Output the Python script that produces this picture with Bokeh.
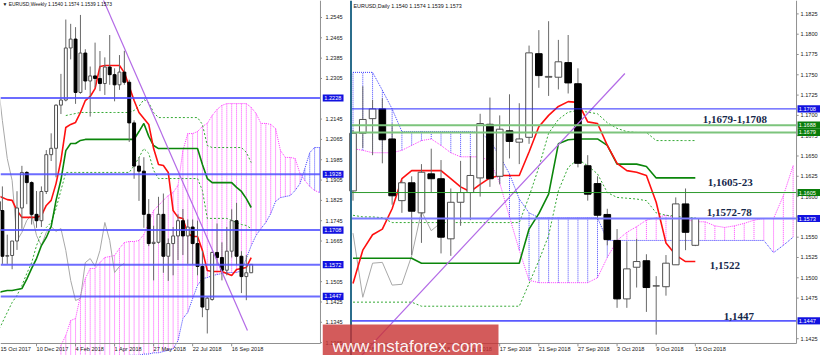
from bokeh.plotting import figure
from bokeh.layouts import row
from bokeh.models import Range1d, Label, ColumnDataSource
from bokeh.core.properties import value
from bokeh.embed import file_html
from bokeh.resources import INLINE

FONT = "Liberation Sans"
TICK_FS = "5.6px"

# ======================= WEEKLY DATA (week index 0 = 15 Oct 2017) =======================
wk_open = [1.1820,1.1785,1.1605,1.1608,1.1665,1.1795,1.1935,1.1895,1.1770,1.1745,
           1.1860,1.2005,1.2030,1.2200,1.2220,1.2425,1.2460,1.2250,1.2405,1.2295,
           1.2315,1.2305,1.2285,1.2350,1.2320,1.2280,1.2330,1.2290,1.2130,1.1960,
           1.1940,1.1770,1.1655,1.1660,1.1770,1.1605,1.1655,1.1685,1.1745,1.1685,
           1.1720,1.1655,1.1565,1.1395,1.1435,1.1620,1.1600,1.1550,1.1625,1.1745,
           1.1605,1.1525,1.1540]
wk_high = [1.1860,1.1880,1.1690,1.1665,1.1861,1.1961,1.1940,1.1900,1.1862,1.1880,
           1.2023,1.2089,1.2203,1.2323,1.2537,1.2520,1.2507,1.2555,1.2420,1.2352,
           1.2446,1.2413,1.2388,1.2476,1.2345,1.2397,1.2414,1.2300,1.2140,1.1995,
           1.1995,1.1830,1.1725,1.1839,1.1852,1.1675,1.1720,1.1770,1.1791,1.1750,
           1.1750,1.1745,1.1625,1.1445,1.1623,1.1734,1.1660,1.1720,1.1790,1.1815,
           1.1625,1.1610,1.1574]
wk_low = [1.1730,1.1575,1.1575,1.1554,1.1630,1.1713,1.1810,1.1730,1.1717,1.1720,
          1.1850,1.1980,1.1916,1.2165,1.2215,1.2380,1.2205,1.2245,1.2260,1.2155,
          1.2270,1.2255,1.2240,1.2280,1.2215,1.2260,1.2280,1.2055,1.1910,1.1823,
          1.1717,1.1645,1.1510,1.1655,1.1540,1.1508,1.1530,1.1590,1.1610,1.1575,
          1.1574,1.1530,1.1365,1.1301,1.1430,1.1575,1.1510,1.1530,1.1600,1.1570,
          1.1460,1.1432,1.1539]
wk_close = [1.1785,1.1605,1.1608,1.1665,1.1795,1.1935,1.1895,1.1770,1.1745,1.1860,
            1.2005,1.2030,1.2200,1.2220,1.2425,1.2460,1.2250,1.2405,1.2295,1.2315,
            1.2305,1.2285,1.2350,1.2320,1.2280,1.2330,1.2290,1.2130,1.1960,1.1940,
            1.1770,1.1655,1.1660,1.1770,1.1605,1.1655,1.1685,1.1745,1.1685,1.1720,
            1.1655,1.1565,1.1405,1.1440,1.1620,1.1600,1.1550,1.1625,1.1745,1.1605,
            1.1525,1.1540,1.1573]
wk_tenkan = [1.1844,1.1836,1.1828,1.1825,1.1785,1.1758,1.1758,1.1758,1.1758,1.1765,
             1.1805,1.1825,1.1891,1.1982,1.2112,1.2124,1.2132,1.2171,1.2218,1.2234,
             1.2265,1.2352,1.2356,1.2356,1.2356,1.2356,1.2328,1.2273,1.2218,1.2171,
             1.2147,1.2124,1.2029,1.1966,1.1962,1.1935,1.1785,1.1758,1.1754,1.1695,
             1.1683,1.1683,1.1628,1.1549,1.1545,1.1545,1.1545,1.1537,1.1529,1.1553,
             1.1557,1.1561,1.1600]
wk_kijun = [1.1462,1.1466,1.1470,1.1470,1.1474,1.1478,1.1515,1.1557,1.1596,1.1647,
            1.1679,1.1722,1.1825,1.1905,1.2021,1.2049,1.2049,1.2061,1.2065,1.2065,
            1.2065,1.2065,1.2065,1.2065,1.2065,1.2065,1.2065,1.2065,1.2065,1.2096,
            1.2128,1.2077,1.2041,1.2029,1.2029,1.2029,1.2029,1.2029,1.2029,1.2029,
            1.2029,1.2029,1.1966,1.1911,1.1895,1.1895,1.1895,1.1895,1.1895,1.1876,
            1.1860,1.1832,1.1797]
wk_chikou = [1.2305,1.2139,1.1990,1.1903,1.1667,1.1699,1.1746,1.1769,1.1687,1.1647,
             1.1699,1.1722,1.1703,1.1714,1.1628,1.1510,1.1431,1.1439,1.1580,1.1596,
             1.1565,1.1628,1.1738,1.1667,1.1541,1.1565,1.1577]
wk_g1_start = 14
wk_g1 = [1.2159,1.2163,1.2167,1.2171,1.2171,1.2171,1.2171,1.2171,1.2171,1.2171,
         1.2171,1.2171,1.2171,1.2171,1.2179,1.2195,1.2222,1.2210,1.2171,1.2151,
         1.2151,1.2151,1.2151,1.2151,1.2151,1.2151,1.2151,1.2151,1.2124,1.2041,
         1.2033,1.2033,1.2033,1.2033,1.2033,1.2033,1.2033,1.2014,1.1974]
wk_g2 = [1.1305,1.1344,1.1384,1.1423,1.1451,1.1490,1.1537,1.1580,1.1647,1.1695,
         1.1718,1.1738,1.1793,1.1864,1.1935,1.1935,1.1935,1.1935,1.1935,1.1935,
         1.1935,1.1935,1.1935,1.1935,1.1935,1.1935,1.1935,1.1935,1.1962,1.1994,
         1.2029,1.2010,1.1943,1.1911,1.1911,1.1911,1.1911,1.1911,1.1911,1.1911,
         1.1911,1.1911,1.1864,1.1754,1.1754,1.1754,1.1754,1.1754,1.1746,1.1738,
         1.1730,1.1726,1.1714]
wk_cloud_start = 13
wk_span_pink = [1.1254,1.1293,1.1352,1.1360,1.1451,1.1517,1.1557,1.1557,1.1580,1.1600,
                1.1604,1.1608,1.1636,1.1659,1.1663,1.1663,1.1667,1.1691,1.1738,1.1785,
                1.1805,1.1825,1.1844,1.1856,1.1884,1.2021,1.2088,1.2088,1.2096,1.2116,
                1.2128,1.2159,1.2183,1.2199,1.2206,1.2206,1.2206,1.2206,1.2206,1.2191,
                1.2167,1.2128,1.2128,1.2124,1.2108,1.2021,1.1994,1.1994,1.1990,1.1931,
                1.1903,1.1880,1.1864,1.1856]
wk_span_blue = [1.1190,1.1190,1.1195,1.1195,1.1195,1.1200,1.1200,1.1200,1.1205,1.1205,
                1.1205,1.1210,1.1210,1.1210,1.1215,1.1215,1.1215,1.1220,1.1220,1.1225,
                1.1225,1.1230,1.1235,1.1240,1.1273,1.1360,1.1384,1.1439,1.1490,1.1517,
                1.1521,1.1529,1.1533,1.1537,1.1541,1.1541,1.1541,1.1549,1.1596,1.1647,
                1.1687,1.1714,1.1738,1.1773,1.1821,1.1836,1.1840,1.1844,1.1864,1.1891,
                1.1951,1.2013,1.2033,1.2033]
wk_trend_x = [21.0, 51.23]
wk_trend_y = [1.2645, 1.1313]
wk_levels = [1.2228, 1.1928, 1.1708, 1.1572, 1.1447]
wk_yticks = [1.2545,1.2465,1.2385,1.2305,1.2145,1.2065,1.1985,1.1905,1.1825,1.1745,
             1.1665,1.1505,1.1425,1.1345,1.1265]
wk_date_idx = [0, 8, 16, 24, 32, 40, 48]
wk_date_lbl = ["15 Oct 2017","10 Dec 2017","4 Feb 2018","1 Apr 2018","27 May 2018",
               "22 Jul 2018","16 Sep 2018"]

# ======================= DAILY DATA (day index 0 = 27 Aug 2018) =======================
d_open = [1.1607,1.1678,1.1696,1.1708,1.1671,1.1595,1.1617,1.1580,1.1628,1.1622,
          1.1548,1.1593,1.1605,1.1623,1.1689,1.1625,1.1681,1.1667,1.1673,1.1776,
          1.1747,1.1747,1.1765,1.1739,1.1638,1.1616,1.1578,1.1546,1.1474,1.1513,
          1.1521,1.1490,1.1489,1.1516,1.1591,1.1540]
d_high = [1.1682,1.1736,1.1719,1.1721,1.1690,1.1620,1.1625,1.1640,1.1659,1.1645,
          1.1610,1.1644,1.1650,1.1702,1.1722,1.1700,1.1726,1.1715,1.1786,1.1805,
          1.1816,1.1793,1.1799,1.1758,1.1651,1.1625,1.1585,1.1560,1.1545,1.1548,
          1.1529,1.1502,1.1528,1.1599,1.1610,1.1574]
d_low = [1.1595,1.1660,1.1651,1.1641,1.1590,1.1580,1.1528,1.1543,1.1605,1.1530,
         1.1527,1.1564,1.1571,1.1600,1.1612,1.1615,1.1647,1.1640,1.1665,1.1734,
         1.1724,1.1732,1.1727,1.1636,1.1595,1.1571,1.1540,1.1463,1.1463,1.1488,
         1.1458,1.1430,1.1478,1.1516,1.1534,1.1539]
d_close = [1.1678,1.1695,1.1708,1.1670,1.1601,1.1617,1.1582,1.1630,1.1622,1.1550,
           1.1593,1.1605,1.1626,1.1690,1.1622,1.1683,1.1668,1.1671,1.1777,1.1749,
           1.1748,1.1766,1.1740,1.1641,1.1603,1.1577,1.1547,1.1474,1.1511,1.1520,
           1.1488,1.1490,1.1518,1.1591,1.1556,1.1573]
d_tenkan = [1.1493,1.1534,1.1553,1.1560,1.1585,1.1622,1.1632,1.1632,1.1632,1.1632,
            1.1622,1.1612,1.1606,1.1615,1.1623,1.1626,1.1626,1.1626,1.1655,1.1686,
            1.1700,1.1711,1.1717,1.1716,1.1692,1.1690,1.1663,1.1641,1.1632,1.1630,
            1.1626,1.1593,1.1543,1.1528,1.1520,1.1520]
d_kijun = [1.1524,1.1524,1.1524,1.1524,1.1524,1.1524,1.1524,1.1518,1.1518,1.1518,
           1.1518,1.1518,1.1518,1.1518,1.1518,1.1518,1.1518,1.1518,1.1560,1.1579,
           1.1603,1.1665,1.1670,1.1671,1.1671,1.1671,1.1663,1.1640,1.1640,1.1640,
           1.1637,1.1623,1.1623,1.1623,1.1623,1.1623]
d_chikou = [1.1555,1.1476,1.1518,1.1519,1.1491,1.1492,1.1527,1.1582,1.1558,1.1568]
d_g1 = [1.1577,1.1575,1.1575,1.1574,1.1568,1.1568,1.1568,1.1568,1.1568,1.1568,
        1.1568,1.1568,1.1568,1.1568,1.1568,1.1568,1.1568,1.1568,1.1600,1.1636,
        1.1678,1.1695,1.1704,1.1706,1.1704,1.1702,1.1691,1.1684,1.1680,1.1679,
        1.1679,1.1669,1.1669,1.1669,1.1669,1.1669]
d_g2 = [1.1470,1.1470,1.1470,1.1470,1.1470,1.1470,1.1470,1.1465,1.1465,1.1465,
        1.1465,1.1465,1.1465,1.1465,1.1465,1.1465,1.1465,1.1465,1.1493,1.1521,
        1.1552,1.1607,1.1636,1.1646,1.1638,1.1628,1.1605,1.1599,1.1598,1.1597,
        1.1595,1.1580,1.1577,1.1576,1.1574,1.1574]
d_span_blue = [1.1753,1.1753,1.1753,1.1731,1.1708,1.1680,1.1680,1.1680,1.1680,1.1680,
               1.1680,1.1680,1.1680,1.1679,1.1669,1.1650,1.1628,1.1597,1.1580,1.1574,
               1.1574,1.1574,1.1574,1.1574,1.1574,1.1574,1.1546,1.1546,1.1546,1.1546,
               1.1546,1.1546,1.1546,1.1546,1.1546,1.1546,1.1546,1.1546,1.1546,1.1546,
               1.1546,1.1546,1.1546,1.1531,1.1540,1.1550]
d_span_pink = [1.1659,1.1657,1.1654,1.1654,1.1654,1.1657,1.1663,1.1669,1.1671,1.1663,
               1.1654,1.1649,1.1649,1.1649,1.1644,1.1617,1.1575,1.1534,1.1497,1.1494,
               1.1494,1.1494,1.1494,1.1494,1.1494,1.1500,1.1525,1.1546,1.1556,1.1563,
               1.1571,1.1574,1.1577,1.1574,1.1572,1.1569,1.1569,1.1564,1.1562,1.1564,
               1.1567,1.1571,1.1573,1.1573,1.1601,1.1638]
d_trend_x = [0.0, 27.8]
d_trend_y = [1.1393, 1.17516]
d_yticks = [1.1825,1.1800,1.1775,1.1750,1.1725,1.1700,1.1675,1.1650,1.1625,1.1600,
            1.1575,1.1550,1.1525,1.1500,1.1475,1.1425]
d_date_idx = [-1, 3, 7, 11, 15, 19, 23, 27, 31, 35]
d_date_lbl = ["24 Aug 2018","30 Aug 2018","5 Sep 2018","11 Sep 2018","17 Sep 2018",
              "21 Sep 2018","27 Sep 2018","3 Oct 2018","9 Oct 2018","15 Oct 2018"]
d_blue_levels = [1.1708, 1.1573, 1.1447]
d_green_levels = [1.1688, 1.1679, 1.1605]
d_tags = [1.1708, 1.1688, 1.1679, 1.1605, 1.1573, 1.1447]
d_tag_colors = ["#1212e0", "#0a7d0a", "#0a7d0a", "#0a7d0a", "#1212e0", "#1212e0"]
d_notes = ["1,1679-1,1708", "1,1605-23", "1,1572-78", "1,1522", "1,1447"]
d_note_x = [35.77, 36.28, 36.17, 36.48, 37.91]
d_note_y = [1.16949, 1.16173, 1.15804, 1.15151, 1.14523]
watermark = "www.instaforex.com"

# ======================= LAYOUT CONSTANTS (range units) =======================
WK_X = (0.615, 66.615)           # weekly panel, week index
WK_Y = (1.12143, 1.26119)        # weekly price scale
WK_EDGE = 66.2                   # right border of weekly chart area
WK_BOTTOM = 1.12615              # bottom border of chart area
WK_DATE_Y = 1.12418
D_X = (-3.119, 47.80)            # daily panel, day index
D_Y = (1.14043, 1.18415)         # daily price scale
D_LEFT, D_RIGHT = -0.205, 45.35  # daily chart borders
D_BOTTOM = 1.14191
D_DATE_Y = 1.14129
WLBL_X = -2.81                   # weekly price labels (in the daily panel)
WTAG = (-3.12, -0.97, -2.93)     # weekly tag box left/right, text x
DLBL_X = 45.76
DTAG = (45.45, 47.75, 45.58)
WTAG_H, DTAG_H = 0.00140, 0.00044
WM_BOX = (D_X[0], 14.877, 1.14425)   # watermark box right / top
WM_TXT = (-2.10, 1.14154)            # watermark text start / baseline

PINK = "#ff3cff"
BLUE = "#3c3cff"
PINK_H = "#ff44ff"
BLUE_H = "#4848ff"
RED = "#ff1010"
GREEN = "#0b860b"
GDOT = "#33a833"
GRAY = "#a8a8a8"
PURPLE = "#b36ae6"
WICK = "#6a6a6a"
AXC = "#909090"


def draw_candles(p, x, o, h, l, c, width):
    p.segment(x0=x, y0=l, x1=x, y1=h, line_color=WICK, line_width=1)
    up = [k for k in range(len(x)) if c[k] >= o[k]]
    dn = [k for k in range(len(x)) if c[k] < o[k]]
    su = ColumnDataSource(dict(x=[x[k] for k in up], t=[c[k] for k in up], b=[o[k] for k in up]))
    sd = ColumnDataSource(dict(x=[x[k] for k in dn], t=[o[k] for k in dn], b=[c[k] for k in dn]))
    p.vbar(x="x", top="t", bottom="b", width=width, fill_color="white",
           line_color="#505050", line_width=1, source=su)
    p.vbar(x="x", top="t", bottom="b", width=width, fill_color="black",
           line_color="black", line_width=1, source=sd)


def draw_cloud(p, xs, pink, blue):
    cols = [BLUE_H if b > a else PINK_H for a, b in zip(pink, blue)]
    p.segment(x0=xs, y0=pink, x1=xs, y1=blue, line_color=cols, line_width=1, line_dash="1 1")
    p.line(xs, pink, line_color=PINK, line_width=1, line_dash="1 1")
    p.line(xs, blue, line_color=BLUE, line_width=1, line_dash="1 1")


def txt(p, xs, ys, texts, size=TICK_FS, color="#202020", align="left",
        baseline="middle", y_range_name="default", alpha=1.0):
    src = ColumnDataSource(dict(x=xs, y=ys, t=texts))
    p.text(x="x", y="y", text="t", source=src, text_font=value(FONT),
           text_font_size=value(size), text_color=color, text_align=align,
           text_baseline=baseline, y_range_name=y_range_name, text_alpha=alpha)


def base_fig(w, xr, yr):
    p = figure(width=w, height=355, x_range=Range1d(*xr), y_range=Range1d(*yr),
               output_backend="svg", toolbar_location=None, x_axis_location=None,
               y_axis_location=None, min_border_left=0, min_border_right=0,
               min_border_top=0, min_border_bottom=0, outline_line_color=None)
    p.grid.visible = False
    p.background_fill_color = "white"
    p.border_fill_color = "white"
    return p


# ======================= WEEKLY PANEL =======================
wk = base_fig(322, WK_X, WK_Y)
wx = list(range(len(wk_open)))
cx = list(range(wk_cloud_start, wk_cloud_start + len(wk_span_pink)))
draw_cloud(wk, cx, wk_span_pink, wk_span_blue)
wk.line(list(range(len(wk_chikou))), wk_chikou, line_color=GRAY, line_width=1)
wk.line(list(range(wk_g1_start, wk_g1_start + len(wk_g1))), wk_g1, line_color=GDOT,
        line_width=1, line_dash="2 2")
wk.line(wx, wk_g2, line_color=GDOT, line_width=1, line_dash="2 2")
wk.line(wx, wk_kijun, line_color=GREEN, line_width=1.6)
wk.line(wx, wk_tenkan, line_color=RED, line_width=1.6)
draw_candles(wk, wx, wk_open, wk_high, wk_low, wk_close, 0.6)
wk.line(wk_trend_x, wk_trend_y, line_color=PURPLE, line_width=1.2)
wk.segment(x0=[WK_X[0]] * len(wk_levels), x1=[WK_EDGE] * len(wk_levels),
           y0=wk_levels, y1=wk_levels, line_color="#5252ff", line_width=2, line_alpha=0.85)
# borders, ticks and dates
wk.segment(x0=[WK_EDGE], x1=[WK_EDGE], y0=[WK_BOTTOM], y1=[WK_Y[1]], line_color=AXC, line_width=1)
wk.segment(x0=[WK_X[0]], x1=[WK_EDGE], y0=[WK_BOTTOM], y1=[WK_BOTTOM], line_color=AXC, line_width=1)
wk.segment(x0=[WK_EDGE] * len(wk_yticks), x1=[WK_X[1]] * len(wk_yticks),
           y0=wk_yticks, y1=wk_yticks, line_color=AXC, line_width=1)
wk.segment(x0=wk_date_idx, x1=wk_date_idx, y0=[WK_BOTTOM] * len(wk_date_idx),
           y1=[WK_BOTTOM - 0.0011] * len(wk_date_idx), line_color=AXC, line_width=1)
txt(wk, [max(w, WK_X[0]) for w in wk_date_idx], [WK_DATE_Y] * len(wk_date_idx), wk_date_lbl)

wk.add_layout(Label(x=2, y=1.2598, x_units="canvas", y_units="data",
                    text="\u25bc EURUSD,Weekly  1.1540 1.1574 1.1539 1.1573",
                    text_font=FONT, text_font_size="4.9px", text_baseline="middle",
                    text_color="#101010"))

# ======================= DAILY PANEL =======================
dy = base_fig(498, D_X, D_Y)
dy.extra_y_ranges = {"wy": Range1d(*WK_Y)}

dx = list(range(len(d_open)))
cdx = list(range(len(d_span_pink)))
draw_cloud(dy, cdx, d_span_pink, d_span_blue)
dy.line(list(range(len(d_chikou))), d_chikou, line_color=GRAY, line_width=1)
dy.line(dx, d_g1, line_color=GDOT, line_width=1, line_dash="2 2")
dy.line(dx, d_g2, line_color=GDOT, line_width=1, line_dash="2 2")
dy.line(dx, d_kijun, line_color=GREEN, line_width=1.6)
dy.line(dx, d_tenkan, line_color=RED, line_width=1.6)
draw_candles(dy, dx, d_open, d_high, d_low, d_close, 0.68)
dy.line(d_trend_x, d_trend_y, line_color=PURPLE, line_width=1.2)

lv_y = d_green_levels + d_blue_levels
lv_c = ["#7cc47c", "#7cc47c", "#2e9a2e", "#2a2aff", "#7b7bff", "#5a5aff"]
lv_w = [2, 2, 1, 1, 2, 1.6]
dy.segment(x0=[D_LEFT] * 6, x1=[D_RIGHT] * 6, y0=lv_y, y1=lv_y,
           line_color=lv_c, line_width=lv_w)

# daily price scale (right)
dy.segment(x0=[D_RIGHT] * len(d_yticks), x1=[D_RIGHT + 0.22] * len(d_yticks),
           y0=d_yticks, y1=d_yticks, line_color=AXC, line_width=1)
txt(dy, [DLBL_X] * len(d_yticks), d_yticks, ["%.4f" % v for v in d_yticks])
# daily dates
dy.segment(x0=d_date_idx, x1=d_date_idx, y0=[D_BOTTOM] * len(d_date_idx),
           y1=[D_BOTTOM - 0.00035] * len(d_date_idx), line_color=AXC, line_width=1)
txt(dy, d_date_idx, [D_DATE_Y] * len(d_date_idx), d_date_lbl)

# weekly price scale (drawn in the gap left of the daily chart)
txt(dy, [WLBL_X] * len(wk_yticks), wk_yticks, ["%.4f" % v for v in wk_yticks], y_range_name="wy")
dy.quad(left=[WTAG[0]] * len(wk_levels), right=[WTAG[1]] * len(wk_levels),
        top=[v + WTAG_H for v in wk_levels], bottom=[v - WTAG_H for v in wk_levels],
        fill_color="#1212e0", line_color=None, y_range_name="wy")
txt(dy, [WTAG[2]] * len(wk_levels), wk_levels, ["%.4f" % v for v in wk_levels],
    color="white", y_range_name="wy")

# borders of the daily chart
dy.segment(x0=[D_LEFT], x1=[D_LEFT], y0=[D_Y[0]], y1=[D_Y[1]], line_color="#2b6d8c", line_width=2)
dy.segment(x0=[D_RIGHT], x1=[D_RIGHT], y0=[D_BOTTOM], y1=[D_Y[1]], line_color=AXC, line_width=1)
dy.segment(x0=[D_LEFT], x1=[D_RIGHT], y0=[D_BOTTOM], y1=[D_BOTTOM], line_color=AXC, line_width=1)

# highlighted daily price tags
dy.quad(left=[DTAG[0]] * len(d_tags), right=[DTAG[1]] * len(d_tags),
        top=[v + DTAG_H for v in d_tags], bottom=[v - DTAG_H for v in d_tags],
        fill_color=d_tag_colors, line_color=None)
txt(dy, [DTAG[2]] * len(d_tags), d_tags, ["%.4f" % v for v in d_tags], color="white")

dy.add_layout(Label(x=31, y=1.18353, x_units="canvas", y_units="data",
                    text="EURUSD,Daily  1.1540 1.1574 1.1539 1.1573",
                    text_font=FONT, text_font_size="5.4px", text_baseline="middle",
                    text_color="#101010"))

for t, xx, yy in zip(d_notes, d_note_x, d_note_y):
    dy.add_layout(Label(x=xx, y=yy, text=t, text_font="Liberation Serif",
                        text_font_style="bold", text_font_size="11px",
                        text_color="#15284a", text_baseline="alphabetic"))

# watermark (box + text drawn last, on top)
dy.quad(left=[WM_BOX[0]], right=[WM_BOX[1]], top=[WM_BOX[2]], bottom=[D_Y[0]],
        fill_color="#c83232", fill_alpha=0.8, line_color=None)
txt(dy, [WM_TXT[0]], [WM_TXT[1]], [watermark], size="17px", color="white",
    baseline="alphabetic", alpha=0.95)

layout = row(wk, dy, spacing=0)
open("out.html", "w").write(file_html(layout, INLINE))
